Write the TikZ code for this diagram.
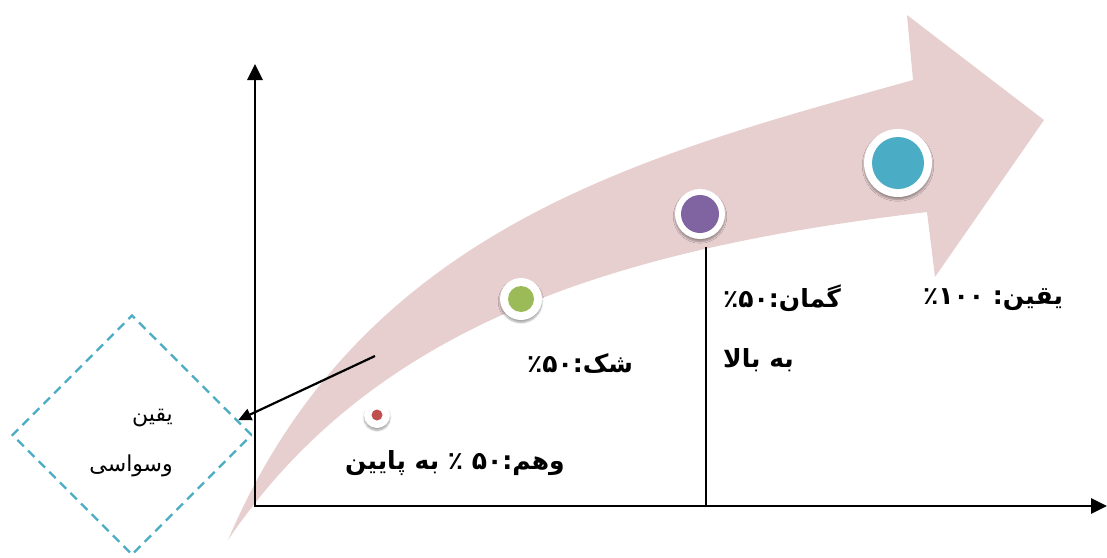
\documentclass[tikz,border=0pt]{standalone}
\usepackage{fontspec}
\newfontfamily\arabicfont[Script=Arabic]{DejaVu Sans}
\TeXXeTstate=1
\definecolor{arrowpink}{RGB}{231,207,208}
\definecolor{ringblue}{RGB}{75,172,198}
\definecolor{ringpurple}{RGB}{128,100,162}
\definecolor{ringgreen}{RGB}{155,187,89}
\definecolor{ringred}{RGB}{192,80,77}
\usetikzlibrary{arrows.meta, shapes.geometric, shadows.blur}

\begin{document}
\begin{tikzpicture}[x=1pt, y=-1pt,
    axis/.style={line width=2.8pt, {Triangle[length=16pt, width=15pt]}-{Triangle[length=16pt, width=15pt]}},
    ring/.style n args={3}{circle, fill=white, inner sep=0pt, minimum size=#1,
      blur shadow={shadow xshift=0pt, shadow yshift=-2.5pt, shadow blur steps=6, shadow opacity=35},
      path picture={\fill[#2] (path picture bounding box.center) circle[radius=#3];}},
    stagetext/.style={font=\arabicfont\bfseries\fontsize{25}{28}\selectfont, inner sep=0pt},
    doubtbox/.style={diamond, draw=ringblue, dash pattern=on 9pt off 6pt, line width=2.4pt,
      minimum width=240pt, minimum height=240pt, inner sep=0pt},
    boxtext/.style={font=\arabicfont\fontsize{22}{26}\selectfont, inner sep=0pt, align=right},
    pointer/.style={line width=2.2pt, -{Triangle[length=13pt, width=12pt]}},
  ]
    \useasboundingbox (0,0) rectangle (1107,557);
    \fill[arrowpink] (228,540) .. controls (362,226) and (645,155) .. (913,80)
      -- (907,15) -- (1044,120) -- (935,277) -- (927,212)
      .. controls (625,248) and (377,320) .. (228,540) -- cycle;

    \coordinate (ytop) at (255,64);
    \coordinate (origin) at (255,506);
    \coordinate (xend) at (1107,506);
    \coordinate (beliefaxis) at (706,506);
    \coordinate (pointerstart) at (375,356);
    \draw[axis] (ytop) -- (origin) -- (xend);

    \node[ring={68pt}{ringblue}{26pt}] (certain) at (898,163) {};
    \node[ring={50pt}{ringpurple}{19pt}] (belief) at (700,214) {};
    \node[ring={42pt}{ringgreen}{13pt}] (doubt) at (521,299) {};
    \node[ring={26pt}{ringred}{5.5pt}] (delusion) at (377,415) {};
    \draw[line width=1.6pt] (beliefaxis) -- ([xshift=6pt, yshift=-8pt]belief.south);

    \node[doubtbox] (obsession) at (132,435) {};
    \node[boxtext, anchor=east] (obsessiontext) at (173,443) {\beginR یقین\endR\\[24pt]\beginR وسواسی\endR};
    \draw[pointer] (pointerstart) -- (obsession.8);

    \node[stagetext] (delusiontext) at (455,463) {\beginR وهم:۵۰ ٪ به پایین\endR};
    \node[stagetext] (doubttext) at (580,363) {\mbox{٪}\mbox{۵۰}:\mbox{شک}};
    \node[stagetext, align=left, anchor=north west] (belieftext) at (723,285) {\mbox{٪}\mbox{۵۰}:\mbox{گمان}\\[32pt]\beginR به بالا\endR};
    \node[stagetext] (certaintext) at (993,300) {\mbox{٪}\mbox{۱۰۰} :\mbox{یقین}};
  \end{tikzpicture}
\end{document}
